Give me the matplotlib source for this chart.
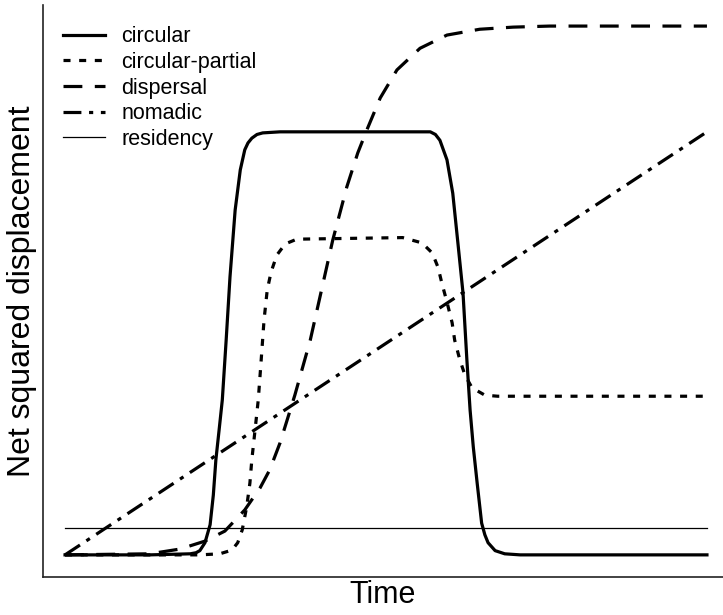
import matplotlib
matplotlib.use("Agg")
import matplotlib.pyplot as plt

plt.rcParams['font.family'] = ['Liberation Sans', 'DejaVu Sans']

# Net squared displacement profiles (time and NSD in arbitrary 0-100 units)
circular_t = [0, 13.2, 19.5, 20.4, 21.0, 21.8, 22.6, 23.1, 23.5, 24.0, 24.5, 25.1,
              25.7, 26.5, 27.3, 28.0, 28.5, 29.1, 29.9, 30.8, 33.5, 56.9, 57.7,
              58.4, 59.5, 60.4, 61.2, 62.0, 62.6, 63.1, 63.6, 64.2, 64.9, 65.4,
              65.9, 67.0, 68.5, 70.9, 100]
circular_nsd = [0, 0, 0.2, 0.4, 0.8, 2.3, 5.7, 11.3, 18.0, 23.6, 29.3, 40.6,
                52.6, 65.2, 72.8, 76.6, 77.9, 78.8, 79.5, 79.8, 80, 80, 79.5,
                78.4, 74.7, 68.4, 59.0, 49.5, 36.9, 27.4, 20.4, 13.6, 6.0, 3.8,
                2.3, 0.8, 0.2, 0, 0]

partial_t = [0, 21.0, 24.1, 26.0, 26.9, 27.6, 28.3, 28.8, 29.1, 29.6, 30.1, 30.5,
             31.0, 31.5, 32.1, 33.0, 34.3, 36.1, 52.6, 55.6, 57.2, 58.1, 58.7,
             59.5, 60.3, 60.7, 61.5, 62.3, 63.4, 65.4, 67.4, 100]
partial_nsd = [0, 0, 0.2, 0.9, 2.3, 4.7, 9.1, 13.6, 18.0, 23.6, 29.3, 35.9,
               44.4, 50.1, 53.5, 56.7, 58.8, 59.7, 60, 59.0, 57.1, 54.4, 51.4,
               47.8, 43.9, 40.6, 36.9, 34.0, 31.6, 30.2, 30, 30]

dispersal_t = [0, 13.2, 17.9, 21.8, 24.9, 28.0, 30.4, 31.9, 33.5, 35.8, 38.2,
               41.7, 43.9, 45.6, 47.0, 49.1, 51.7, 55.3, 59.5, 64.6, 69.8, 75.5, 100]
dispersal_nsd = [0, 0.2, 1.1, 2.6, 4.5, 8.5, 12.7, 16.1, 21.2, 30.2, 40.6,
                 59.5, 69.6, 76.0, 80.3, 86.4, 91.7, 95.8, 98.3, 99.4, 99.8, 100, 100]

nomadic_t = [0, 100]
nomadic_nsd = [0, 80]

residency_t = [0, 100]
residency_nsd = [5, 5]

labels = ['circular', 'circular-partial', 'dispersal', 'nomadic', 'residency']

fig = plt.figure(figsize=(7.23, 6.15), dpi=100)
ax = fig.add_axes([0.0595, 0.062, 0.9405, 0.93])

lw = 2.3
ax.plot(circular_t, circular_nsd, color='black', lw=lw, linestyle='-',
        solid_joinstyle='round', label=labels[0])
ax.plot(partial_t, partial_nsd, color='black', lw=lw,
        linestyle=(0, (2.2, 2.7)), label=labels[1])
ax.plot(dispersal_t, dispersal_nsd, color='black', lw=lw,
        linestyle=(0, (5.9, 3.9)), label=labels[2])
ax.plot(nomadic_t, nomadic_nsd, color='black', lw=lw,
        linestyle=(0, (5.6, 2.4, 1.3, 2.4)), label=labels[3])
ax.plot(residency_t, residency_nsd, color='black', lw=0.9, linestyle='-',
        label=labels[4])

ax.set_xlim(-3.43, 102.5)
ax.set_ylim(-4.16, 104.0)
ax.set_xticks([])
ax.set_yticks([])
for side in ['top', 'right']:
    ax.spines[side].set_visible(False)
for side in ['left', 'bottom']:
    ax.spines[side].set_linewidth(1.2)
    ax.spines[side].set_color('#222222')

ax.set_xlabel('Time', fontsize=22, labelpad=2)
ax.set_ylabel('Net squared displacement', fontsize=23, labelpad=4)

ax.legend(loc='upper left', bbox_to_anchor=(0.029, 0.963), frameon=False,
          fontsize=15.5, handlelength=1.98, handletextpad=0.75,
          labelspacing=0.22, borderaxespad=0, borderpad=0)

fig.savefig('out.png', dpi=100)
